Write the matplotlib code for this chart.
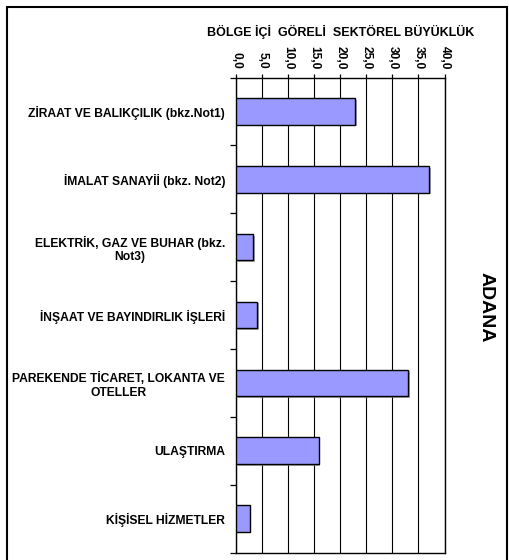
import matplotlib
matplotlib.use("Agg")
import matplotlib.pyplot as plt
import matplotlib.patheffects as pe
from matplotlib.patches import Rectangle

plt.rcParams['font.family'] = ['Liberation Sans', 'DejaVu Sans']

categories = [
    "ZİRAAT VE BALIKÇILIK (bkz.Not1)",
    "İMALAT SANAYİİ (bkz. Not2)",
    "ELEKTRİK, GAZ VE BUHAR (bkz.\nNot3)",
    "İNŞAAT VE BAYINDIRLIK İŞLERİ",
    "PAREKENDE TİCARET, LOKANTA VE\nOTELLER",
    "ULAŞTIRMA",
    "KİŞİSEL HİZMETLER",
]
values = [22.9, 37.1, 3.2, 4.0, 33.0, 15.8, 2.6]
x_ticks = [0, 5, 10, 15, 20, 25, 30, 35, 40]
x_tick_labels = ["0,0", "5,0", "10,0", "15,0", "20,0", "25,0", "30,0", "35,0", "40,0"]
title = "BÖLGE İÇİ  GÖRELİ  SEKTÖREL BÜYÜKLÜK"
side_label = "ADANA"

W, H = 509, 560
fig = plt.figure(figsize=(W / 100, H / 100), dpi=100)
fig.patch.set_facecolor("white")

# outer border
fig.patches.append(Rectangle((7 / W, -0.05), 500 / W, 1.05 - 7 / H,
                             transform=fig.transFigure, fill=False,
                             edgecolor="black", linewidth=1.5))

left, right, top, bottom = 236.3, 444.5, 77.5, 552.5
ax = fig.add_axes([left / W, 1 - bottom / H, (right - left) / W, (bottom - top) / H])

pos = list(range(len(categories)))
bars = ax.barh(pos, values, height=0.39, color="#9999FF", edgecolor="black",
               linewidth=1.0, zorder=3)
for b in bars:
    b.set_path_effects([pe.SimplePatchShadow(offset=(1.2, -1.2), shadow_rgbFace="gray", alpha=0.7),
                        pe.Normal()])

ax.set_xlim(0, 40)
ax.set_ylim(len(categories) - 0.5, -0.5)

# gridlines
for xv in x_ticks:
    ax.axvline(xv, color="black", linewidth=0.8, zorder=1)

ax.xaxis.tick_top()
ax.set_xticks(x_ticks)
ax.set_xticklabels(x_tick_labels, rotation=-90, fontsize=8.6, fontweight="bold")
ax.tick_params(axis="x", direction="out", length=3, width=0.9, pad=3)

# category boundaries as major ticks, labels at minor ticks
ax.set_yticks([i - 0.5 for i in range(len(categories) + 1)])
ax.set_yticklabels([])
ax.set_yticks(pos, minor=True)
ax.set_yticklabels(categories, minor=True, fontsize=8.7, fontweight="bold",
                   multialignment="center")
ax.tick_params(axis="y", which="major", direction="out", length=4, width=0.9)
ax.tick_params(axis="y", which="minor", length=0, pad=8)

for s in ax.spines.values():
    s.set_linewidth(1.0)
    s.set_color("black")

fig.text(341 / W, 1 - 32 / H, title, ha="center", va="center",
         fontsize=9.0, fontweight="bold")
fig.text(486.5 / W, 1 - 307 / H, side_label, ha="center", va="center",
         rotation=-90, fontsize=14, fontweight="bold")

fig.savefig("out.png", dpi=100)
